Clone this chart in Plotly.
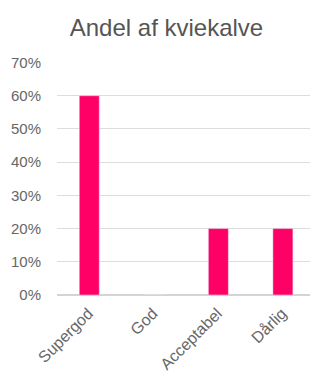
import plotly.graph_objects as go

categories = ["Supergod", "God", "Acceptabel", "Dårlig"]
values = [0.60, 0.0, 0.20, 0.20]
tick_vals = [0, 0.1, 0.2, 0.3, 0.4, 0.5, 0.6, 0.7]
tick_text = ["0%", "10%", "20%", "30%", "40%", "50%", "60%", "70%"]

fig = go.Figure(go.Bar(x=categories, y=values, marker_color="#FF0066", width=0.31))

fig.update_layout(
    width=310, height=371,
    margin=dict(l=57, r=0, t=62, b=76, autoexpand=False),
    paper_bgcolor="white", plot_bgcolor="white",
    font=dict(family="Liberation Sans, Arial", color="#666666", size=15),
    title=dict(text="Andel af kviekalve", x=166.5/310, xanchor="center", y=1 - 28/371, yanchor="middle",
               font=dict(size=24, color="#555555")),
    showlegend=False,
)
fig.update_xaxes(tickangle=-45, range=[-0.5, 3.42], showgrid=False, showline=False, ticks="",
                 tickfont=dict(size=16, color="#666666"), ticklabelshift=-1, ticklabelstandoff=5)
fig.update_yaxes(range=[0, 0.7015], tickvals=tick_vals, ticktext=tick_text, showgrid=True,
                 gridcolor="#dddddd", gridwidth=1, zeroline=True, zerolinecolor="#d4d4d4",
                 ticks="", tickfont=dict(size=15, color="#666666"), ticklabelstandoff=15)

fig.write_html("out.html", post_script="document.body.style.margin='0';",
               config={"displayModeBar": False})
